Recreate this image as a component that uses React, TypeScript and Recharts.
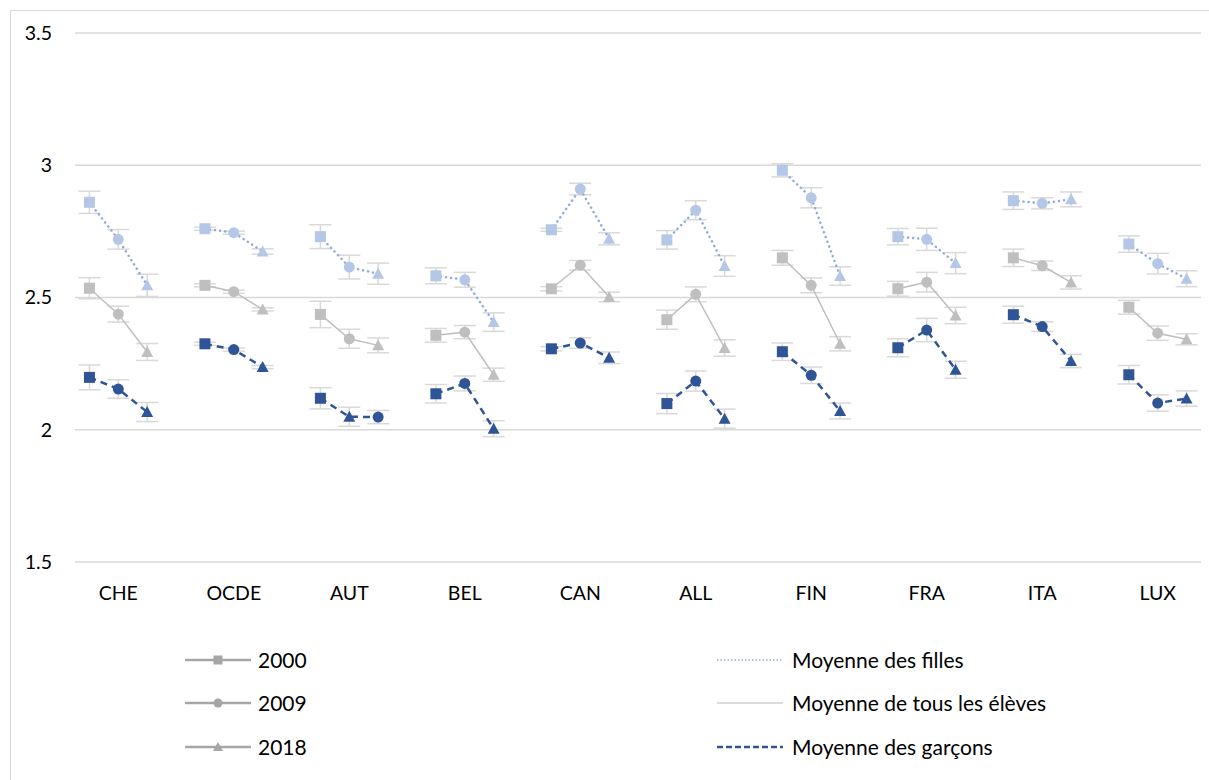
import React from "react";
import { LineChart, Line, XAxis, YAxis, CartesianGrid, ErrorBar } from "recharts";

const countries = ["CHE", "OCDE", "AUT", "BEL", "CAN", "ALL", "FIN", "FRA", "ITA", "LUX"];
const years = ["2000", "2009", "2018"];
const yTicks = [1.5, 2, 2.5, 3, 3.5];

const girls2000 = [2.86, 2.76, 2.73, 2.582, 2.756, 2.718, 2.981, 2.73, 2.866, 2.702];
const girls2009 = [2.72, 2.745, 2.615, 2.567, 2.91, 2.83, 2.877, 2.72, 2.856, 2.628];
const girls2018 = [2.546, 2.674, 2.59, 2.407, 2.722, 2.619, 2.581, 2.63, 2.871, 2.571];

const all2000 = [2.535, 2.546, 2.436, 2.357, 2.533, 2.416, 2.65, 2.533, 2.65, 2.463];
const all2009 = [2.437, 2.522, 2.344, 2.369, 2.622, 2.512, 2.546, 2.558, 2.62, 2.365];
const all2018 = [2.294, 2.455, 2.319, 2.208, 2.502, 2.309, 2.325, 2.432, 2.557, 2.342];

const boys2000 = [2.198, 2.325, 2.119, 2.136, 2.306, 2.099, 2.295, 2.31, 2.435, 2.208];
const boys2009 = [2.154, 2.303, 2.049, 2.175, 2.328, 2.184, 2.206, 2.377, 2.39, 2.101];
const boys2018 = [2.067, 2.237, 2.048, 2.004, 2.272, 2.042, 2.071, 2.227, 2.26, 2.118];

// error margins per country: [2000, 2009, 2018]
const girlsErr = [
  [0.042, 0.037, 0.042], [0.006, 0.006, 0.01], [0.045, 0.045, 0.04], [0.03, 0.028, 0.035],
  [0.006, 0.022, 0.023], [0.035, 0.036, 0.039], [0.025, 0.038, 0.035], [0.031, 0.042, 0.04],
  [0.033, 0.021, 0.028], [0.031, 0.039, 0.03],
];
const allErr = [
  [0.04, 0.03, 0.032], [0.006, 0.006, 0.006], [0.05, 0.036, 0.028], [0.026, 0.025, 0.025],
  [0.008, 0.018, 0.018], [0.036, 0.028, 0.031], [0.028, 0.028, 0.027], [0.028, 0.037, 0.031],
  [0.033, 0.018, 0.025], [0.026, 0.027, 0.021],
];
const boysErr = [
  [0.047, 0.035, 0.036], [0.006, 0.006, 0.006], [0.04, 0.036, 0.025], [0.035, 0.028, 0.03],
  [0.008, 0.02, 0.022], [0.038, 0.038, 0.036], [0.033, 0.031, 0.03], [0.034, 0.044, 0.032],
  [0.032, 0.018, 0.025], [0.035, 0.031, 0.029],
];

// in the original, AUT boys has the 2009/2018 markers swapped
const swapped = ["boys-AUT"];

const girls = [girls2000, girls2009, girls2018];
const all = [all2000, all2009, all2018];
const boys = [boys2000, boys2009, boys2018];

const data: any[] = [];
countries.forEach((c, i) => {
  years.forEach((_, j) => {
    data.push({
      x: i * 4 + j,
      country: c,
      year: j,
      girls: girls[j][i],
      girlsErr: girlsErr[i][j],
      all: all[j][i],
      allErr: allErr[i][j],
      boys: boys[j][i],
      boysErr: boysErr[i][j],
    });
  });
  if (i < countries.length - 1) {
    data.push({ x: i * 4 + 3, girls: null, all: null, boys: null, girlsErr: null, allErr: null, boysErr: null });
  }
});

const xTicks = countries.map((_, i) => i * 4 + 1);

const GIRLS_MARK = "#b4c7e7";
const GIRLS_LINE = "#8faadc";
const ALL_COL = "#bfbfbf";
const BOYS_COL = "#2f5597";
const ERR_COL = "#d9d9d9";
const FONT = "Lato, 'Liberation Sans', Arial, sans-serif";

function Marker({ shape, cx, cy, fill, s = 11 }: { shape: number; cx: number; cy: number; fill: string; s?: number }) {
  const h = s / 2;
  if (shape === 0) return <rect x={cx - h} y={cy - h} width={s} height={s} fill={fill} />;
  if (shape === 1) return <circle cx={cx} cy={cy} r={h} fill={fill} />;
  return <polygon points={`${cx},${cy - h - 0.5} ${cx + h + 0.5},${cy + h - 0.5} ${cx - h - 0.5},${cy + h - 0.5}`} fill={fill} />;
}

const makeDot = (fill: string, key: string) => (props: any) => {
  const { cx, cy, payload, index } = props;
  if (cy == null || payload == null || payload.year == null) return <g key={index} />;
  let shape = payload.year;
  if (swapped.includes(`${key}-${payload.country}`) && shape > 0) shape = shape === 1 ? 2 : 1;
  return <Marker key={index} shape={shape} cx={cx} cy={cy} fill={fill} />;
};

const legendLeft = [
  { label: "2000", shape: 0 },
  { label: "2009", shape: 1 },
  { label: "2018", shape: 2 },
];
const legendRight = [
  { label: "Moyenne des filles", color: GIRLS_LINE, dash: "1.5 2", w: 1.5 },
  { label: "Moyenne de tous les élèves", color: "#d0d0d0", dash: undefined, w: 1.5 },
  { label: "Moyenne des garçons", color: BOYS_COL, dash: "6 3", w: 2.5 },
];

export default function App() {
  const rowsY = [660, 703, 747];
  return (
    <div style={{ position: "absolute", left: 0, top: 0, width: 1209, height: 780, overflow: "hidden", background: "#fff", fontFamily: FONT }}>
      <div style={{ position: "absolute", left: 10, top: 10, width: 1220, height: 800, border: "1.5px solid #d9d9d9" }} />
      <div style={{ position: "absolute", left: 0, top: 0 }}>
        <LineChart width={1209} height={610} data={data} margin={{ top: 33, right: 8, bottom: 8, left: 0 }}>
          <CartesianGrid horizontal vertical={false} stroke="#d9d9d9" strokeWidth={1.5} />
          <XAxis
            dataKey="x"
            type="number"
            domain={[-0.5, 38.5]}
            ticks={xTicks}
            tickFormatter={(v: number) => countries[(v - 1) / 4]}
            axisLine={false}
            tickLine={false}
            height={40}
            tickMargin={18}
            tick={{ fill: "#000", fontSize: 19.5, fontFamily: FONT }}
            interval={0}
          />
          <YAxis
            type="number"
            domain={[1.5, 3.5]}
            ticks={yTicks}
            axisLine={false}
            tickLine={false}
            width={75}
            tickMargin={17}
            tick={{ fill: "#000", fontSize: 19.5, fontFamily: FONT }}
            tickFormatter={(v: number) => String(v)}
          />
          <Line
            dataKey="girls"
            stroke={GIRLS_LINE}
            strokeWidth={2.5}
            strokeDasharray="0.1 5"
            strokeLinecap="round"
            type="linear"
            dot={makeDot(GIRLS_MARK, "girls")}
            activeDot={false}
            connectNulls={false}
            isAnimationActive={false}
          >
            <ErrorBar dataKey="girlsErr" direction="y" width={11} stroke={ERR_COL} strokeWidth={1.5} isAnimationActive={false} />
          </Line>
          <Line
            dataKey="all"
            stroke={ALL_COL}
            strokeWidth={1.5}
            type="linear"
            dot={makeDot(ALL_COL, "all")}
            activeDot={false}
            connectNulls={false}
            isAnimationActive={false}
          >
            <ErrorBar dataKey="allErr" direction="y" width={11} stroke={ERR_COL} strokeWidth={1.5} isAnimationActive={false} />
          </Line>
          <Line
            dataKey="boys"
            stroke={BOYS_COL}
            strokeWidth={2.5}
            strokeDasharray="7 5"
            type="linear"
            dot={makeDot(BOYS_COL, "boys")}
            activeDot={false}
            connectNulls={false}
            isAnimationActive={false}
          >
            <ErrorBar dataKey="boysErr" direction="y" width={11} stroke={ERR_COL} strokeWidth={1.5} isAnimationActive={false} />
          </Line>
        </LineChart>
      </div>
      {legendLeft.map((l, k) => (
        <div key={l.label} style={{ position: "absolute", left: 183, top: rowsY[k] - 12, display: "flex", alignItems: "center", height: 24 }}>
          <svg width={70} height={24}>
            <line x1={2} x2={68} y1={12} y2={12} stroke="#a6a6a6" strokeWidth={2.5} />
            <Marker shape={l.shape} cx={35} cy={12} fill="#a6a6a6" s={9} />
          </svg>
          <span style={{ fontSize: 21, marginLeft: 5, color: "#000", lineHeight: "24px" }}>{l.label}</span>
        </div>
      ))}
      {legendRight.map((l, k) => (
        <div key={l.label} style={{ position: "absolute", left: 715, top: rowsY[k] - 12, display: "flex", alignItems: "center", height: 24 }}>
          <svg width={70} height={24}>
            <line x1={2} x2={68} y1={12} y2={12} stroke={l.color} strokeWidth={l.w} strokeDasharray={l.dash} />
          </svg>
          <span style={{ fontSize: 21, marginLeft: 7, color: "#000", lineHeight: "24px" }}>{l.label}</span>
        </div>
      ))}
    </div>
  );
}
